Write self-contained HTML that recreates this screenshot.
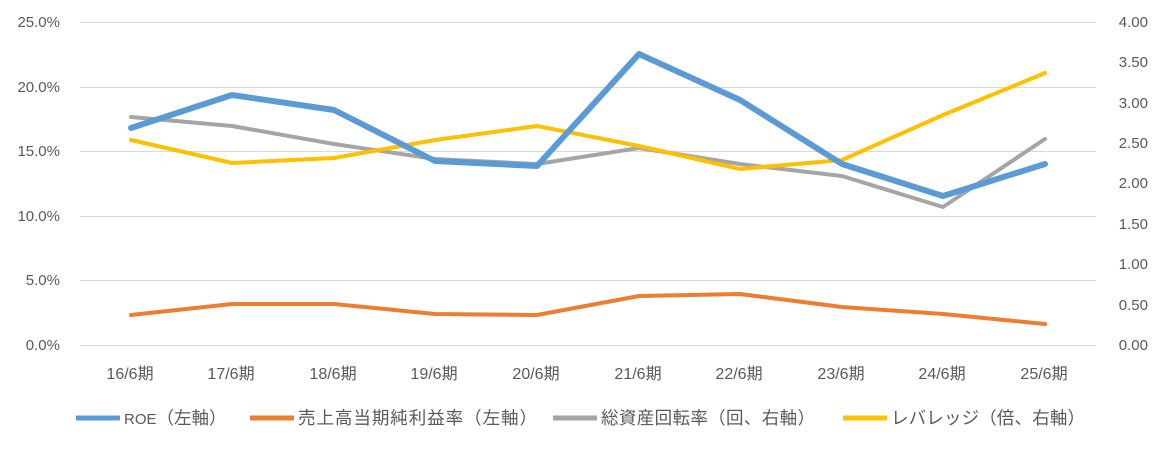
<!DOCTYPE html>
<html><head><meta charset="utf-8"><style>
body{margin:0;background:#fff;}
svg text{font-family:"Liberation Sans","Noto Sans CJK JP",sans-serif;font-size:15px;fill:#595959;}
svg .x text{font-size:16px;}
svg text.lg{font-size:17.5px;}
</style></head><body>
<svg width="1161" height="450" xmlns="http://www.w3.org/2000/svg">
<g stroke="#d9d9d9" stroke-width="1">
<line x1="80" y1="22.5" x2="1096" y2="22.5"/>
<line x1="80" y1="87.5" x2="1096" y2="87.5"/>
<line x1="80" y1="151.5" x2="1096" y2="151.5"/>
<line x1="80" y1="216.5" x2="1096" y2="216.5"/>
<line x1="80" y1="280.5" x2="1096" y2="280.5"/>
<line x1="80" y1="345.5" x2="1096" y2="345.5"/>
</g>
<g text-anchor="end">
<text x="60" y="27">25.0%</text><text x="60" y="92">20.0%</text><text x="60" y="156">15.0%</text>
<text x="60" y="221">10.0%</text><text x="60" y="285">5.0%</text><text x="60" y="350">0.0%</text>
</g>
<g text-anchor="end">
<text x="1148" y="27">4.00</text><text x="1148" y="67">3.50</text><text x="1148" y="108">3.00</text>
<text x="1148" y="148">2.50</text><text x="1148" y="188">2.00</text><text x="1148" y="229">1.50</text>
<text x="1148" y="269">1.00</text><text x="1148" y="310">0.50</text><text x="1148" y="350">0.00</text>
</g>
<g class="x" text-anchor="middle">
<text x="130" y="379">16/6期</text><text x="231" y="379">17/6期</text><text x="333" y="379">18/6期</text>
<text x="434" y="379">19/6期</text><text x="536" y="379">20/6期</text><text x="638" y="379">21/6期</text>
<text x="739" y="379">22/6期</text><text x="841" y="379">23/6期</text><text x="942" y="379">24/6期</text>
<text x="1044" y="379">25/6期</text>
</g>
<g fill="none" stroke-linejoin="round" stroke-linecap="round">
<polyline stroke="#ED7D31" stroke-width="4" points="131,315 232,304 334,304 435,314 537,315 639,296 740,294 842,307 943,314 1045,324"/>
<polyline stroke="#A5A5A5" stroke-width="4" points="131,117 232,126 334,144 435,159 537,164 639,148 740,164 842,176 943,207 1045,139"/>
<polyline stroke="#FFC000" stroke-width="4" points="131,140 232,163 334,158 435,140 537,126 639,146 740,169 842,160 943,115 1045,73"/>
<polyline stroke="#5B9BD5" stroke-width="6" points="131,128 232,95 334,110 435,161 537,166 639,54 740,100 842,164 943,196 1045,164"/>
</g>
<g stroke-width="5">
<line x1="76" y1="418" x2="120" y2="418" stroke="#5B9BD5"/>
<line x1="250" y1="418" x2="294" y2="418" stroke="#ED7D31"/>
<line x1="553" y1="418" x2="597" y2="418" stroke="#A5A5A5"/>
<line x1="843" y1="418" x2="887" y2="418" stroke="#FFC000"/>
</g>
<text x="124" y="424" style="font-size:15px">ROE<tspan style="font-size:17.5px">（左軸）</tspan></text>
<text class="lg" x="298" y="424" textLength="239">売上高当期純利益率（左軸）</text>
<text class="lg" x="601" y="424" textLength="214">総資産回転率（回、右軸）</text>
<text class="lg" x="891" y="424" textLength="194">レバレッジ（倍、右軸）</text>
</svg>
</body></html>
